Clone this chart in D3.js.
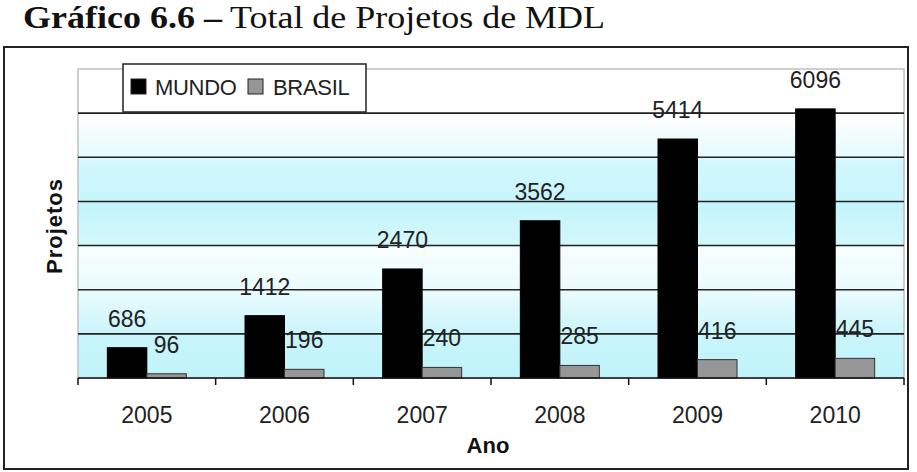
<!DOCTYPE html>
<html>
<head>
<meta charset="utf-8">
<script src="https://cdn.jsdelivr.net/npm/d3@7"></script>
<style>
  html, body { margin: 0; padding: 0; background: #fff; }
  svg { display: block; }
</style>
</head>
<body>
<svg id="chart" width="917" height="472"></svg>
<script>
const years = ["2005", "2006", "2007", "2008", "2009", "2010"];
const seriesNames = ["MUNDO", "BRASIL"];
const mundo = [686, 1412, 2470, 3562, 5414, 6096];
const brasil = [96, 196, 240, 285, 416, 445];
const yTicks = [1000, 2000, 3000, 4000, 5000, 6000];
const yMax = 7000;
const titleBold = "Gráfico 6.6 –";
const titleRest = "Total de Projetos de MDL";

const svg = d3.select("#chart");
const sans = "'Liberation Sans', Arial, sans-serif";
const serif = "'Liberation Serif', 'Times New Roman', serif";

// Title (two parts)
svg.append("text")
  .attr("x", 23).attr("y", 28)
  .attr("font-family", serif).attr("font-size", 31).attr("font-weight", "bold")
  .attr("fill", "#111")
  .attr("textLength", 199).attr("lengthAdjust", "spacingAndGlyphs")
  .text(titleBold);
svg.append("text")
  .attr("x", 230).attr("y", 28)
  .attr("font-family", serif).attr("font-size", 31)
  .attr("fill", "#111")
  .attr("textLength", 375).attr("lengthAdjust", "spacingAndGlyphs")
  .text(titleRest);

// Outer frame
svg.append("rect").attr("x", 4).attr("y", 47).attr("width", 904).attr("height", 422)
  .attr("fill", "#fff").attr("stroke", "#222").attr("stroke-width", 2);

const plot = { left: 78, right: 904, top: 69, bottom: 378 };

const x = d3.scaleBand().domain(years).range([plot.left, plot.right]).padding(0);
const groupW = 79;
const inner = d3.scaleBand().domain(seriesNames).range([0, groupW]).padding(0);
const y = d3.scaleLinear().domain([0, yMax]).range([plot.bottom, plot.top]);

// Background gradient
const defs = svg.append("defs");
const grad = defs.append("linearGradient").attr("id", "bg")
  .attr("x1", 0).attr("y1", 0).attr("x2", 0).attr("y2", 1);
[[0, "#ffffff"], [0.15, "#ffffff"], [0.285, "#e4fafd"], [0.30, "#d2f7fc"],
 [0.45, "#c4f5fb"], [0.57, "#d4f8fc"], [0.58, "#f8fefe"], [0.72, "#eafbfd"],
 [0.735, "#e6fafd"], [0.86, "#c8f5fb"], [1, "#c0f4fa"]].forEach(([o, c]) =>
  grad.append("stop").attr("offset", o).attr("stop-color", c));

svg.append("rect")
  .attr("x", plot.left).attr("y", plot.top)
  .attr("width", plot.right - plot.left).attr("height", plot.bottom - plot.top)
  .attr("fill", "url(#bg)").attr("stroke", "#c0c0c0").attr("stroke-width", 1.5);

// Gridlines
svg.append("g").selectAll("line").data(yTicks).join("line")
  .attr("x1", plot.left).attr("x2", plot.right)
  .attr("y1", d => y(d)).attr("y2", d => y(d))
  .attr("stroke", "#222").attr("stroke-width", 1.6);

// Bars
const series = [
  { name: "MUNDO", values: mundo, fill: "#000000", stroke: "#000000" },
  { name: "BRASIL", values: brasil, fill: "#969696", stroke: "#333333" }
];
const barX = (name, i) => x(years[i]) + (x.bandwidth() - groupW) / 2 + inner(name);
series.forEach(s => {
  svg.append("g").selectAll("rect").data(s.values).join("rect")
    .attr("x", (d, i) => barX(s.name, i))
    .attr("y", d => y(d))
    .attr("width", inner.bandwidth())
    .attr("height", d => y(0) - y(d))
    .attr("fill", s.fill).attr("stroke", s.stroke).attr("stroke-width", 1);
});

// Data labels
series.forEach(s => {
  svg.append("g").selectAll("text").data(s.values).join("text")
    .attr("x", (d, i) => barX(s.name, i) + inner.bandwidth() / 2)
    .attr("y", d => y(d) - 21)
    .attr("text-anchor", "middle")
    .attr("font-family", sans).attr("font-size", 23).attr("fill", "#222")
    .text(d => d);
});

// X axis
const xAxis = d3.axisBottom(x).tickSize(0).tickPadding(0);
const xg = svg.append("g").attr("transform", `translate(0,${plot.bottom})`).call(xAxis);
xg.select(".domain").remove();
xg.selectAll("text")
  .attr("y", 45).attr("dy", null)
  .attr("font-family", sans).attr("font-size", 23).attr("fill", "#222");
svg.append("line").attr("x1", plot.left).attr("x2", plot.right)
  .attr("y1", plot.bottom).attr("y2", plot.bottom)
  .attr("stroke", "#111").attr("stroke-width", 1.5);
const bounds = years.map(d => x(d)).concat([plot.right]);
svg.append("g").selectAll("line").data(bounds).join("line")
  .attr("x1", d => d).attr("x2", d => d)
  .attr("y1", plot.bottom).attr("y2", plot.bottom + 7)
  .attr("stroke", "#111").attr("stroke-width", 1.5);

// Axis titles
svg.append("text").attr("x", 488).attr("y", 453)
  .attr("text-anchor", "middle").attr("font-family", sans)
  .attr("font-size", 22).attr("font-weight", "bold").attr("fill", "#111")
  .text("Ano");
svg.append("text")
  .attr("transform", "translate(62,226) rotate(-90)")
  .attr("text-anchor", "middle").attr("font-family", sans)
  .attr("font-size", 22).attr("font-weight", "bold").attr("fill", "#111")
  .attr("letter-spacing", 1)
  .text("Projetos");

// Legend
const lg = svg.append("g");
lg.append("rect").attr("x", 123).attr("y", 64).attr("width", 243).attr("height", 48)
  .attr("fill", "#fff").attr("stroke", "#222").attr("stroke-width", 1.5);
const legendItems = [
  { name: seriesNames[0], fill: "#000000", sx: 131, tx: 155 },
  { name: seriesNames[1], fill: "#969696", sx: 248, tx: 273 }
];
legendItems.forEach(it => {
  lg.append("rect").attr("x", it.sx).attr("y", 79).attr("width", 15).attr("height", 15)
    .attr("fill", it.fill).attr("stroke", "#222").attr("stroke-width", 1);
  lg.append("text").attr("x", it.tx).attr("y", 95)
    .attr("font-family", sans).attr("font-size", 22).attr("fill", "#222")
    .attr("letter-spacing", -0.3)
    .text(it.name);
});
</script>
</body>
</html>
